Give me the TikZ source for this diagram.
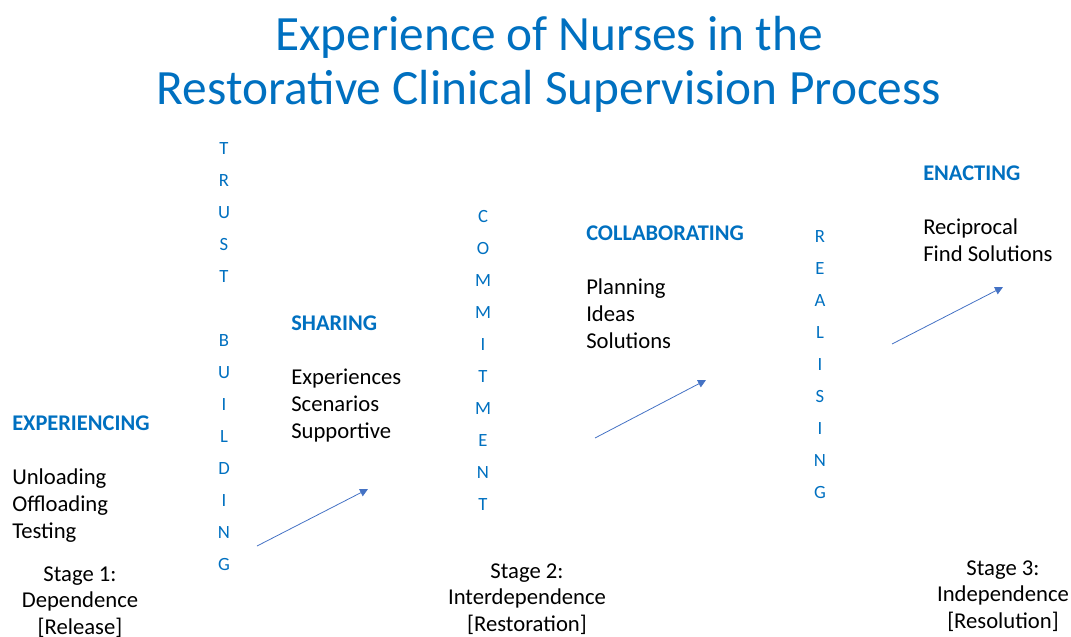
\documentclass[tikz,border=0pt]{standalone}
\usepackage{fontspec}
\setmainfont{Carlito}
\usetikzlibrary{arrows.meta}

\definecolor{titleblue}{HTML}{0070C0}
\definecolor{arrowblue}{HTML}{4472C4}

\tikzset{
  heading/.style={anchor=base west, inner sep=0pt, text=titleblue,
    font=\fontsize{16.8pt}{20pt}\selectfont\bfseries},
  items/.style={anchor=base west, inner sep=0pt, align=left,
    font=\fontsize{17pt}{20.25pt}\selectfont},
  stage/.style={anchor=base, inner sep=0pt, align=center,
    font=\fontsize{17pt}{19.6pt}\selectfont},
  letter/.style={anchor=base, inner sep=0pt, text=titleblue,
    font=\fontsize{14pt}{16pt}\selectfont},
  flow/.style={draw=arrowblue, line width=0.6pt,
    -{Triangle[length=6pt,width=6pt]}}
}

\begin{document}
\begin{tikzpicture}[x=0.75pt, y=-0.75pt]
    \useasboundingbox (0,0) rectangle (1071,636);

    % title (base = last line)
    \node[anchor=base, inner sep=0pt, align=center, text=titleblue,
      font=\fontsize{37pt}{40pt}\selectfont] (title) at (549,104)
      {Experience of Nurses in the\\Restorative Clinical Supervision Process};

    % stage 1
    \node[heading] (exphead) at (12,430) {EXPERIENCING};
    \node[items] (explist) at (12,538) {Unloading\\Offloading\\Testing};
    \node[stage] (stage1) at (80,634) {Stage 1:\\Dependence\\{[}Release{]}};

    % sharing
    \node[heading] (sharehead) at (291,330) {SHARING};
    \node[items] (sharelist) at (291,438) {Experiences\\Scenarios\\Supportive};

    % stage 2
    \node[heading] (collhead) at (586,240) {COLLABORATING};
    \node[items] (colllist) at (586,348) {Planning\\Ideas\\Solutions};
    \node[stage] (stage2) at (527,631) {Stage 2:\\Interdependence\\{[}Restoration{]}};

    % stage 3
    \node[heading] (enacthead) at (923,180) {ENACTING};
    \node[items] (enactlist) at (923,261) {Reciprocal\\Find Solutions};
    \node[stage] (stage3) at (1003,628) {Stage 3:\\Independence\\{[}Resolution{]}};

    % vertical words
    \foreach \ch [count=\i] in {T,R,U,S,T,{},B,U,I,L,D,I,N,G}
      \node[letter] (trust\i) at (224,{154+32*(\i-1)}) {\ch};
    \foreach \ch [count=\i] in {C,O,M,M,I,T,M,E,N,T}
      \node[letter] (commit\i) at (483,{222+32*(\i-1)}) {\ch};
    \foreach \ch [count=\i] in {R,E,A,L,I,S,I,N,G}
      \node[letter] (real\i) at (820,{242+32.1*(\i-1)}) {\ch};

    % arrows
    \coordinate (a1s) at (257,546);
    \coordinate (a1e) at (368,489);
    \coordinate (a2s) at (595,438);
    \coordinate (a2e) at (706,380);
    \coordinate (a3s) at (892,344);
    \coordinate (a3e) at (1003,287);
    \draw[flow] (a1s) -- (a1e);
    \draw[flow] (a2s) -- (a2e);
    \draw[flow] (a3s) -- (a3e);
\end{tikzpicture}
\end{document}
